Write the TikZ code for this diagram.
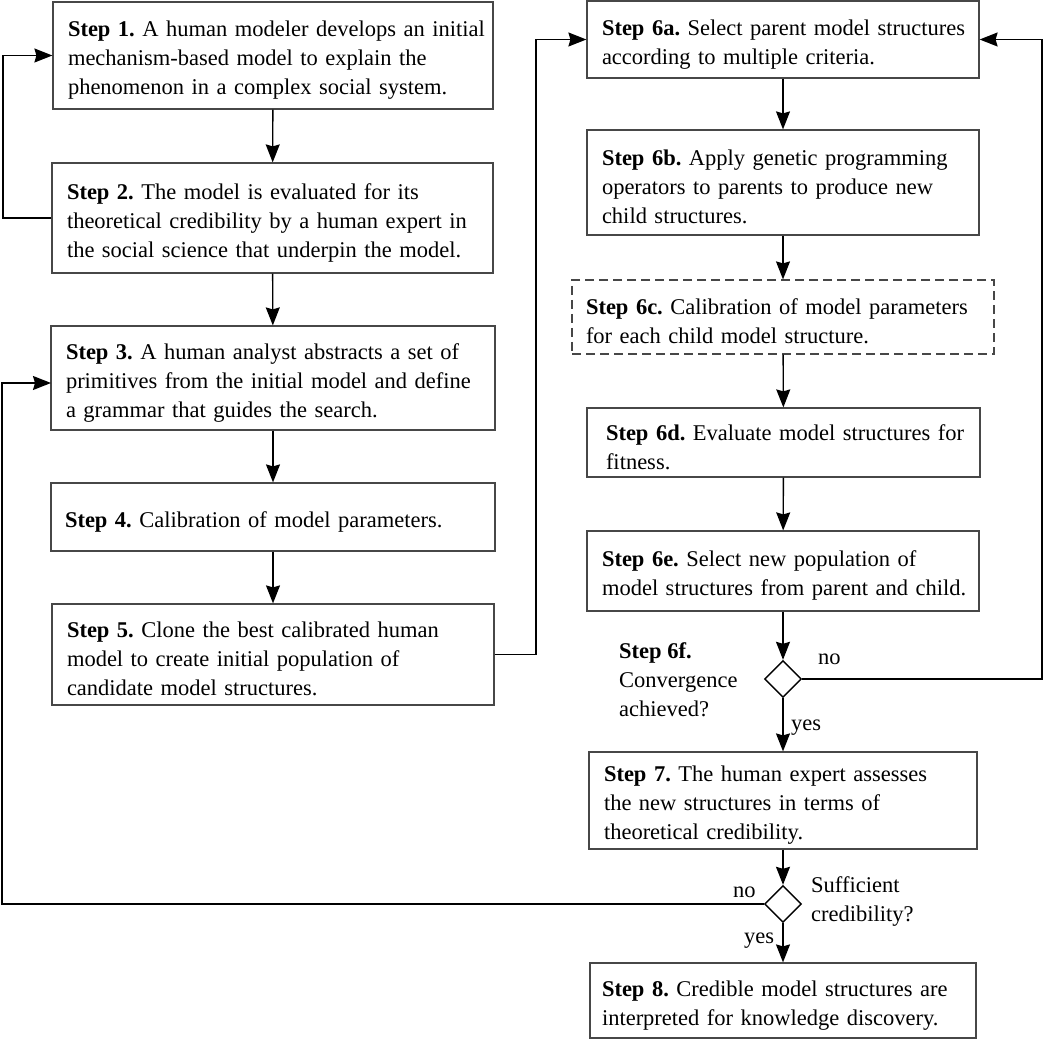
\documentclass[tikz,border=0pt]{standalone}
\usepackage{fontspec}
\setmainfont{Liberation Serif}
\usetikzlibrary{shapes.geometric,arrows.meta}
\newcommand{\fsz}{\fontsize{22.5}{29}\selectfont\frenchspacing}
\newcommand{\Lf}[1]{\mbox{#1}}
\begin{document}
\begin{tikzpicture}[x=1pt,y=-1pt,
  stepbox/.style={draw=black!72, line width=1.2pt, inner ysep=0pt, inner xsep=15pt, align=left, font=\fsz, anchor=center,
    execute at begin node={\rule{0pt}{25pt}}},
  dashbox/.style={stepbox, dash pattern=on 9pt off 5pt},
  decision/.style={draw=black, line width=1.4pt, diamond, aspect=1, inner sep=0pt, minimum width=37pt, minimum height=37pt},
  lbl/.style={font=\fsz, inner sep=0pt, align=left},
  conn/.style={line width=1.4pt, -{Stealth[length=18pt,width=14pt,inset=2pt]}},
  plain/.style={line width=1.4pt}
]
\useasboundingbox (0,0) rectangle (1050,1040);

\node[stepbox, text width=410pt, minimum height=107pt] (s1) at (273,55.5)
  {\Lf{\textbf{Step 1.} A human modeler develops an initial}\\\Lf{mechanism-based model to explain the}\\\Lf{phenomenon in a complex social system.}};
\node[stepbox, text width=411pt, minimum height=110pt] (s2) at (272.5,218)
  {\Lf{\textbf{Step 2.} The model is evaluated for its}\\\Lf{theoretical credibility by a human expert in}\\\Lf{the social science that underpin the model.}};
\node[stepbox, text width=414pt, minimum height=104pt] (s3) at (273,378)
  {\Lf{\textbf{Step 3.} A human analyst abstracts a set of}\\\Lf{primitives from the initial model and define}\\\Lf{a grammar that guides the search.}};
\node[stepbox, inner xsep=14pt, text width=416pt, minimum height=68pt] (s4) at (273,517)
  {\Lf{\textbf{Step 4.} Calibration of model parameters.}};
\node[stepbox, text width=412pt, minimum height=101pt] (s5) at (273,654.5)
  {\Lf{\textbf{Step 5.} Clone the best calibrated human}\\\Lf{model to create initial population of}\\\Lf{candidate model structures.}};

\node[stepbox, text width=362pt, minimum height=77pt] (s6a) at (783,39.5)
  {\Lf{\textbf{Step 6a.} Select parent model structures}\\\Lf{according to multiple criteria.}};
\node[stepbox, text width=362pt, minimum height=105pt] (s6b) at (783,182.5)
  {\Lf{\textbf{Step 6b.} Apply genetic programming}\\\Lf{operators to parents to produce new}\\\Lf{child structures.}};
\node[dashbox, inner xsep=14pt, text width=394pt, minimum height=74pt] (s6c) at (783,317)
  {\Lf{\textbf{Step 6c.} Calibration of model parameters}\\\Lf{for each child model structure.}};
\node[stepbox, inner xsep=19pt, text width=355pt, minimum height=69pt] (s6d) at (783.5,442.5)
  {\Lf{\textbf{Step 6d.} Evaluate model structures for}\\\Lf{fitness.}};
\node[stepbox, text width=362pt, minimum height=80pt] (s6e) at (783,571)
  {\Lf{\textbf{Step 6e.} Select new population of}\\\Lf{model structures from parent and child.}};
\node[decision] (d1) at (783,679) {};
\node[stepbox, text width=358pt, minimum height=97pt] (s7) at (783,800.5)
  {\Lf{\textbf{Step 7.} The human expert assesses}\\\Lf{the new structures in terms of}\\\Lf{theoretical credibility.}};
\node[decision] (d2) at (783,904) {};
\node[stepbox, inner xsep=12pt, text width=362pt, minimum height=75pt] (s8) at (783,1000.5)
  {\Lf{\textbf{Step 8.} Credible model structures are}\\\Lf{interpreted for knowledge discovery.}};

\node[lbl, anchor=north west] (l6f) at (619,642) {\textbf{Step 6f.}\\Convergence\\achieved?};
\node[lbl, anchor=base west] (no1) at (818,664) {no};
\node[lbl, anchor=base west] (yes1) at (791,730) {yes};
\node[lbl, anchor=north west] (lsc) at (811,876) {Sufficient\\credibility?};
\node[lbl, anchor=base west] (no2) at (733,897) {no};
\node[lbl, anchor=base west] (yes2) at (744,943) {yes};

\coordinate (c2l) at (3,218);
\coordinate (c5r) at (536,654.5);
\coordinate (cd1r) at (1042,679);
\coordinate (cd2l) at (2,904);
\coordinate (s3in) at (51,383);

\draw[conn] (s1) -- (s2);
\draw[conn] (s2) -- (s3);
\draw[conn] (s3) -- (s4);
\draw[conn] (s4) -- (s5);
\draw[conn] (s2.west) -- (c2l) |- (s1.west);
\draw[conn] (s5.east) -- (c5r) |- (s6a.west);
\draw[conn] (s6a) -- (s6b);
\draw[conn] (s6b) -- (s6c);
\draw[conn] (s6c) -- (s6d);
\draw[conn] (s6d) -- (s6e);
\draw[conn] (s6e) -- (d1);
\draw[conn] (d1.east) -- (cd1r) |- (s6a.east);
\draw[conn] (d1) -- (s7);
\draw[conn] (s7) -- (d2);
\draw[conn] (d2) -- (s8);
\draw[conn] (d2.west) -- (cd2l) |- (s3in);
\end{tikzpicture}
\end{document}
